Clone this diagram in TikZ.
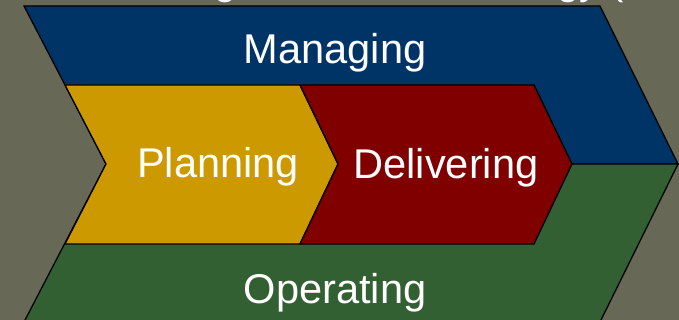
\documentclass[tikz,border=0pt]{standalone}
\usepackage{fontspec}
\setmainfont{Liberation Sans}
\definecolor{bgcol}{RGB}{104,104,86}
\definecolor{mgcol}{RGB}{0,51,102}
\definecolor{plcol}{RGB}{204,153,0}
\definecolor{dlcol}{RGB}{128,0,0}
\definecolor{opcol}{RGB}{51,96,51}
\tikzset{
  band/.style={draw=black, line width=1.3pt, line join=miter},
  lbl/.style={text=white, anchor=base, inner sep=0pt, font=\fontsize{41.6}{48}\selectfont},
  ttl/.style={text=white, anchor=base west, inner sep=0pt, font=\fontsize{40}{46}\selectfont}
}
\begin{document}
\begin{tikzpicture}[x=1pt,y=-1pt]
\useasboundingbox (0,0) rectangle (679,320);
\fill[bgcol] (0,0) rectangle (679,320);
% cut-off title line above the picture
\node[ttl] (t1) at (214,-5) {g};
\node[ttl] (t2) at (557,-5) {gy (};
% Managing (top band)
\path[band, fill=mgcol] (24,6) -- (600,6) -- (678,164) -- (106,164) -- cycle;
% Operating (bottom band)
\path[band, fill=opcol] (106,164) -- (678,164) -- (600,322) -- (24,322) -- cycle;
% Planning chevron
\path[band, fill=plcol] (65,85) -- (300,85) -- (338,164) -- (300,244) -- (65,244) -- (106,164) -- cycle;
% Delivering chevron
\path[band, fill=dlcol] (300,85) -- (534,85) -- (572,164) -- (534,244) -- (300,244) -- (338,164) -- cycle;
% labels
\node[lbl] (mg) at (335,64) {Managing};
\node[lbl] (pl) at (218,178) {Planning};
\node[lbl] (dl) at (446,179) {Delivering};
\node[lbl] (op) at (335,303) {Operating};
\end{tikzpicture}
\end{document}
